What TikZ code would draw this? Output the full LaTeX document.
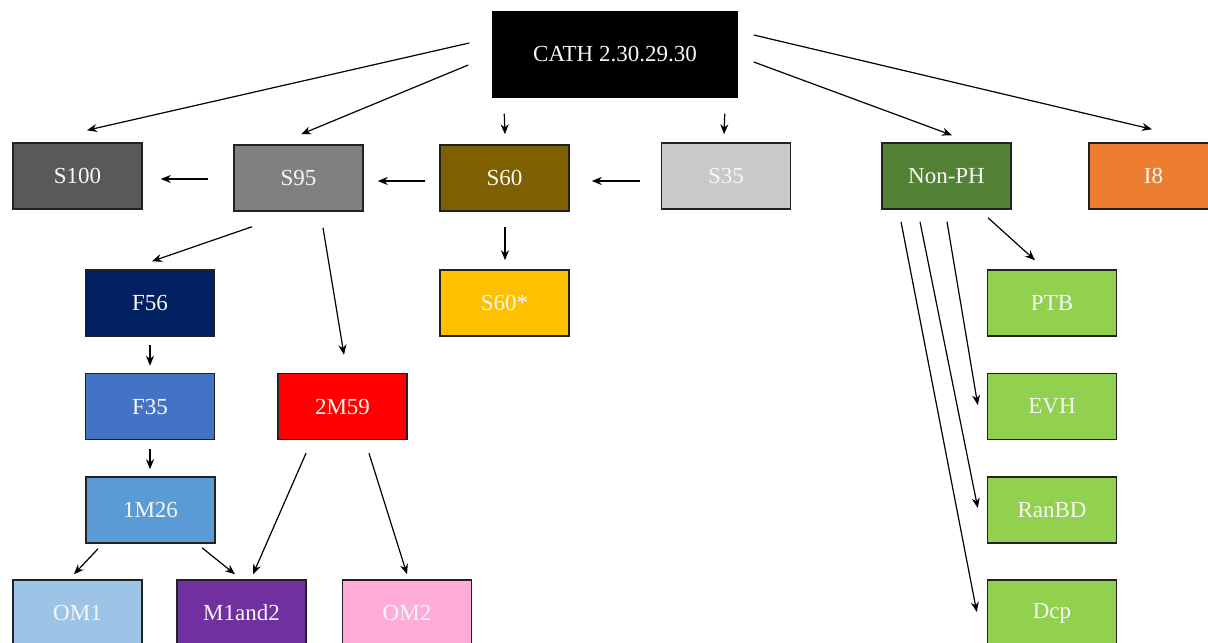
\documentclass[tikz,border=0pt]{standalone}
\usepackage{fontspec}
\setmainfont{Liberation Serif}
\usetikzlibrary{arrows.meta,calc}
\definecolor{cS100}{HTML}{595959}
\definecolor{cS95}{HTML}{808080}
\definecolor{cS60}{HTML}{7F6000}
\definecolor{cS35}{HTML}{C9C9C9}
\definecolor{cNonPH}{HTML}{548235}
\definecolor{cI8}{HTML}{ED7D31}
\definecolor{cF56}{HTML}{002060}
\definecolor{cS60s}{HTML}{FFC000}
\definecolor{cF35}{HTML}{4472C4}
\definecolor{cM59}{HTML}{FF0000}
\definecolor{cM26}{HTML}{5B9BD5}
\definecolor{cOM1}{HTML}{9DC3E6}
\definecolor{cM12}{HTML}{7030A0}
\definecolor{cOM2}{HTML}{FFACD8}
\definecolor{cGreen}{HTML}{92D050}
\definecolor{cBorder}{HTML}{222222}
\definecolor{cText}{HTML}{F7F7F7}
\tikzset{
  box/.style={draw=cBorder, line width=0.75pt, minimum width=64.5pt, minimum height=33pt,
    inner sep=0pt, text=cText, font=\fontsize{11.5}{13}\selectfont},
  arr/.style={line width=0.6pt, -{Stealth[length=5pt,width=4pt]}}
}
\begin{document}
\begin{tikzpicture}[x=0.5pt,y=-0.5pt]
\clip (0,0) rectangle (1208,642);
\fill[white] (0,0) rectangle (1208,642);
\node[box, fill=black, draw=none, minimum width=123pt, minimum height=43.5pt] (cath) at (615,54.5) {CATH 2.30.29.30};
\node[box, fill=cS100] (s100) at (77.5,176) {S100};
\node[box, fill=cS95] (s95) at (298.5,178) {S95};
\node[box, fill=cS60] (s60) at (504.5,178) {S60};
\node[box, fill=cS35] (s35) at (726,176) {S35};
\node[box, fill=cNonPH] (nonph) at (946.5,176) {Non-PH};
\node[box, fill=cI8] (i8) at (1153.5,176) {I8};
\node[box, fill=cF56] (f56) at (150,303) {F56};
\node[box, fill=cS60s] (s60s) at (504.5,303) {S60*};
\node[box, fill=cF35] (f35) at (150,406.5) {F35};
\node[box, fill=cM59] (m59) at (342.5,406.5) {2M59};
\node[box, fill=cM26] (m26) at (150.5,510) {1M26};
\node[box, fill=cOM1] (om1) at (77.5,613) {OM1};
\node[box, fill=cM12] (m12) at (241.5,613) {M1and2};
\node[box, fill=cOM2] (om2) at (407,613) {OM2};
\node[box, fill=cGreen] (ptb) at (1052,303) {PTB};
\node[box, fill=cGreen] (evh) at (1052,406.5) {EVH};
\node[box, fill=cGreen] (ranbd) at (1052,510) {RanBD};
\node[box, fill=cGreen] (dcp) at (1052,613) {Dcp};
% connectors
\draw[arr] ($(cath.west)+(-22,-11.5)$) -- ($(s100.north)+(9.5,-12)$);
\draw[arr] ($(cath.west)+(-23,10.5)$) -- ($(s95.north)+(2.5,-10)$);
\draw[arr] ($(cath.south west)+(13,15)$) -- ($(s60.north)+(0.5,-10)$);
\draw[arr] ($(cath.south east)+(-14,15)$) -- ($(s35.north)+(-2,-8)$);
\draw[arr] ($(cath.east)+(15,7.5)$) -- ($(nonph.north)+(5.5,-7)$);
\draw[arr] ($(cath.east)+(15,-19.5)$) -- ($(i8.north)+(-1.5,-13)$);
\draw[arr] ($(s95.west)+(-25,1)$) -- ($(s100.east)+(18,3)$);
\draw[arr] ($(s60.west)+(-14,3)$) -- ($(s95.east)+(14,3)$);
\draw[arr] ($(s35.west)+(-21,5)$) -- ($(s60.east)+(22,3)$);
\draw[arr] ($(s60.south)+(0.5,15)$) -- ($(s60s.north)+(0.5,-9)$);
\draw[arr] ($(s95.south)+(-46.5,15)$) -- ($(f56.north)+(2,-8)$);
\draw[arr] ($(s95.south)+(24.5,16)$) -- ($(m59.north)+(1.5,-18)$);
\draw[arr] ($(f56.south)+(0,8)$) -- ($(f35.north)+(0,-7)$);
\draw[arr] ($(f35.south)+(0,9)$) -- ($(m26.north)+(-0.5,-7)$);
\draw[arr] ($(m26.south)+(-52.5,5)$) -- ($(om1.north)+(-3.5,-5)$);
\draw[arr] ($(m26.south)+(51.5,4)$) -- ($(m12.north)+(-6.5,-5)$);
\draw[arr] ($(m59.south)+(-36.5,13)$) -- ($(m12.north)+(11.5,-5)$);
\draw[arr] ($(m59.south)+(26.5,13)$) -- ($(om2.north)+(0,-5)$);
\draw[arr] ($(nonph.south)+(41.5,8)$) -- ($(ptb.north)+(-17,-9)$);
\draw[arr] ($(nonph.south)+(0.5,12)$) -- ($(evh.west)+(-9,-1.5)$);
\draw[arr] ($(nonph.south)+(-26.5,12)$) -- ($(ranbd.west)+(-9,-2)$);
\draw[arr] ($(nonph.south)+(-45.5,12)$) -- ($(dcp.west)+(-10,-1)$);
\end{tikzpicture}
\end{document}
